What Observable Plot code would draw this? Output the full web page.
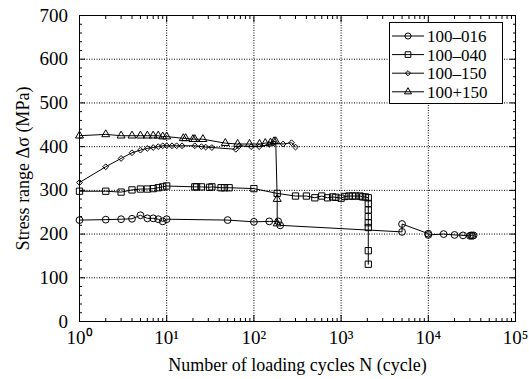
<!DOCTYPE html>
<html><head><meta charset="utf-8">
<script src="https://cdn.jsdelivr.net/npm/d3@7"></script>
<script src="https://cdn.jsdelivr.net/npm/@observablehq/plot@0.6"></script>
<style>
body{margin:0;background:#fff;}
#chart{position:relative;width:529px;height:379px;}
#chart, #chart svg, #chart text{font-family:"Liberation Serif","Times New Roman",serif !important;}
#legend{position:absolute;left:389px;top:22px;}
</style></head><body><div id="chart"></div>
<script>
const seriesNames = ["100–016", "100–040", "100–150", "100+150"];
const seriesSymbols = ["circle", "square2", "diamond2", "triangle2"];
const seriesRadius = [3.4, 4.0, 2.6, 3.8];

const n016 = [1,2,3,4,5,6,7,8,9,10,50,100,150,190,200,5000,5000,10000,10000,15000,20000,25000,30000,31000,32000,33000];
const s016 = [232,233,234,235,243,236,236,234,229,234,232,228,229,229,220,205,223,201,198,200,198,197,196,197,196,197];

const n040 = [1,2,3,4,5,6,7,8,9,10,21,22,25,31,33,42,46,52,100,185,300,400,500,600,700,800,870,1000,1100,1230,1350,1470,1650,1770,1900,2050,2050,2050,2050,2050,2050,2050,2050];
const s040 = [298,298,296,301,303,303,304,306,308,310,308,308,308,307,308,306,306,306,304,293,287,287,283,287,283,285,284,282,286,287,287,287,287,285,285,283,270,255,240,226,215,162,131];

const n150 = [1,2,3,4,5,6,7,8,9,10,11.5,13,15,21,25,28,33,62,68,93,115,150,167,216,270,300];
const s150 = [318,354,373,386,392,396,398,400,402,402,402,402,402,402,400,399,398,394,402,400,400,405,408,406,409,399];

const np150 = [1,2,3,4,5,6,7,8,9,10,15.5,16.5,20,21,26,47,65,89,116,135,155,170,178,185,185];
const sp150 = [425,428,425,425,425,425,425,425,423,423,419,419,417,417,417,408,406,406,406,408,409,412,412,280,224];

const xMajorTicks = [1, 10, 100, 1000, 10000, 100000];
const xTickLabels = ["10⁰", "10¹", "10²", "10³", "10⁴", "10⁵"];
const yMajorTicks = [0, 100, 200, 300, 400, 500, 600, 700];
const xMinorTicks = [];
for (let k = 0; k < 5; k++) for (let m = 2; m <= 9; m++) xMinorTicks.push(m * 10 ** k);
const yMinorTicks = d3.range(0, 701, 20).filter(v => v % 100 !== 0);

const allN = [n016, n040, n150, np150];
const allS = [s016, s040, s150, sp150];
const rows = [];
allN.forEach((ns, i) => ns.forEach((n, j) => rows.push({series: seriesNames[i], idx: i, n, s: allS[i][j]})));

const font = "'Liberation Serif', 'Times New Roman', serif";
const grid = {stroke: "black", strokeOpacity: 1, strokeWidth: 1, strokeDasharray: "1,1.5"};
const blank = () => "";

const marks = [
  Plot.gridX(xMajorTicks.slice(1, -1), grid),
  Plot.gridY(yMajorTicks.slice(1, -1), grid),
  Plot.frame({stroke: "black", strokeWidth: 1}),
  Plot.axisX(xMajorTicks, {anchor: "bottom", tickSize: -6, tickPadding: 15, tickFormat: d => xTickLabels[xMajorTicks.indexOf(d)],
    fontSize: 19, label: null}),
  Plot.axisX({anchor: "bottom", ticks: [], label: "Number of loading cycles N (cycle)", labelAnchor: "center", labelOffset: 49, labelArrow: "none", fontSize: 18}),
  Plot.axisX(xMinorTicks, {anchor: "bottom", tickSize: -3, tickFormat: blank, label: null}),
  Plot.axisX(xMajorTicks, {anchor: "top", tickSize: -6, tickFormat: blank, label: null}),
  Plot.axisX(xMinorTicks, {anchor: "top", tickSize: -3, tickFormat: blank, label: null}),
  Plot.axisY(yMajorTicks, {anchor: "left", tickSize: -6, tickPadding: 17.5, tickFormat: d => String(d), fontSize: 19, label: null}),
  Plot.axisY({anchor: "left", ticks: [], label: "Stress range Δσ (MPa)", labelAnchor: "center", labelOffset: 63, labelArrow: "none", fontSize: 18}),
  Plot.axisY(yMinorTicks, {anchor: "left", tickSize: -3, tickFormat: blank, label: null}),
  Plot.axisY(yMajorTicks, {anchor: "right", tickSize: -6, tickFormat: blank, label: null}),
  Plot.axisY(yMinorTicks, {anchor: "right", tickSize: -3, tickFormat: blank, label: null})
];
seriesNames.forEach((name, i) => {
  const data = rows.filter(r => r.idx === i);
  marks.push(Plot.line(data, {x: "n", y: "s", stroke: "black", strokeWidth: 1}));
  marks.push(Plot.dot(data, {x: "n", y: "s", symbol: () => seriesSymbols[i], r: seriesRadius[i], stroke: "black", fill: "none", strokeWidth: 1}));
});

const chart = Plot.plot({
  width: 529, height: 379,
  marginLeft: 79, marginRight: 14, marginTop: 15, marginBottom: 58,
  style: {fontFamily: font, fontSize: "19px", color: "black", background: "white", overflow: "visible"},
  x: {type: "log", domain: [1, 1e5]},
  y: {domain: [0, 700]},
  symbol: {type: "identity"},
  marks
});
const container = document.getElementById("chart");
container.appendChild(chart);

// Legend overlay
const lw = 114, lh = 82;
const lg = d3.select(container).append("svg").attr("id", "legend").attr("width", lw).attr("height", lh)
  .style("font-family", font).style("font-size", "17px");
lg.append("rect").attr("x", 0.5).attr("y", 0.5).attr("width", lw - 1).attr("height", lh - 1)
  .attr("fill", "white").attr("stroke", "black").attr("stroke-width", 1);
const symMap = {circle: d3.symbolCircle, square2: d3.symbolSquare2, diamond2: d3.symbolDiamond2, triangle2: d3.symbolTriangle2};
seriesNames.forEach((name, i) => {
  const y = 14 + i * 18.6;
  const g = lg.append("g");
  g.append("line").attr("x1", 3).attr("x2", 35).attr("y1", y).attr("y2", y).attr("stroke", "black");
  g.append("path").attr("transform", `translate(19,${y})`)
    .attr("d", d3.symbol(symMap[seriesSymbols[i]], Math.PI * seriesRadius[i] ** 2 * 0.8)())
    .attr("fill", "none").attr("stroke", "black");
  g.append("text").attr("x", 38).attr("y", y).attr("dy", "0.35em").text(name);
});
</script></body></html>
